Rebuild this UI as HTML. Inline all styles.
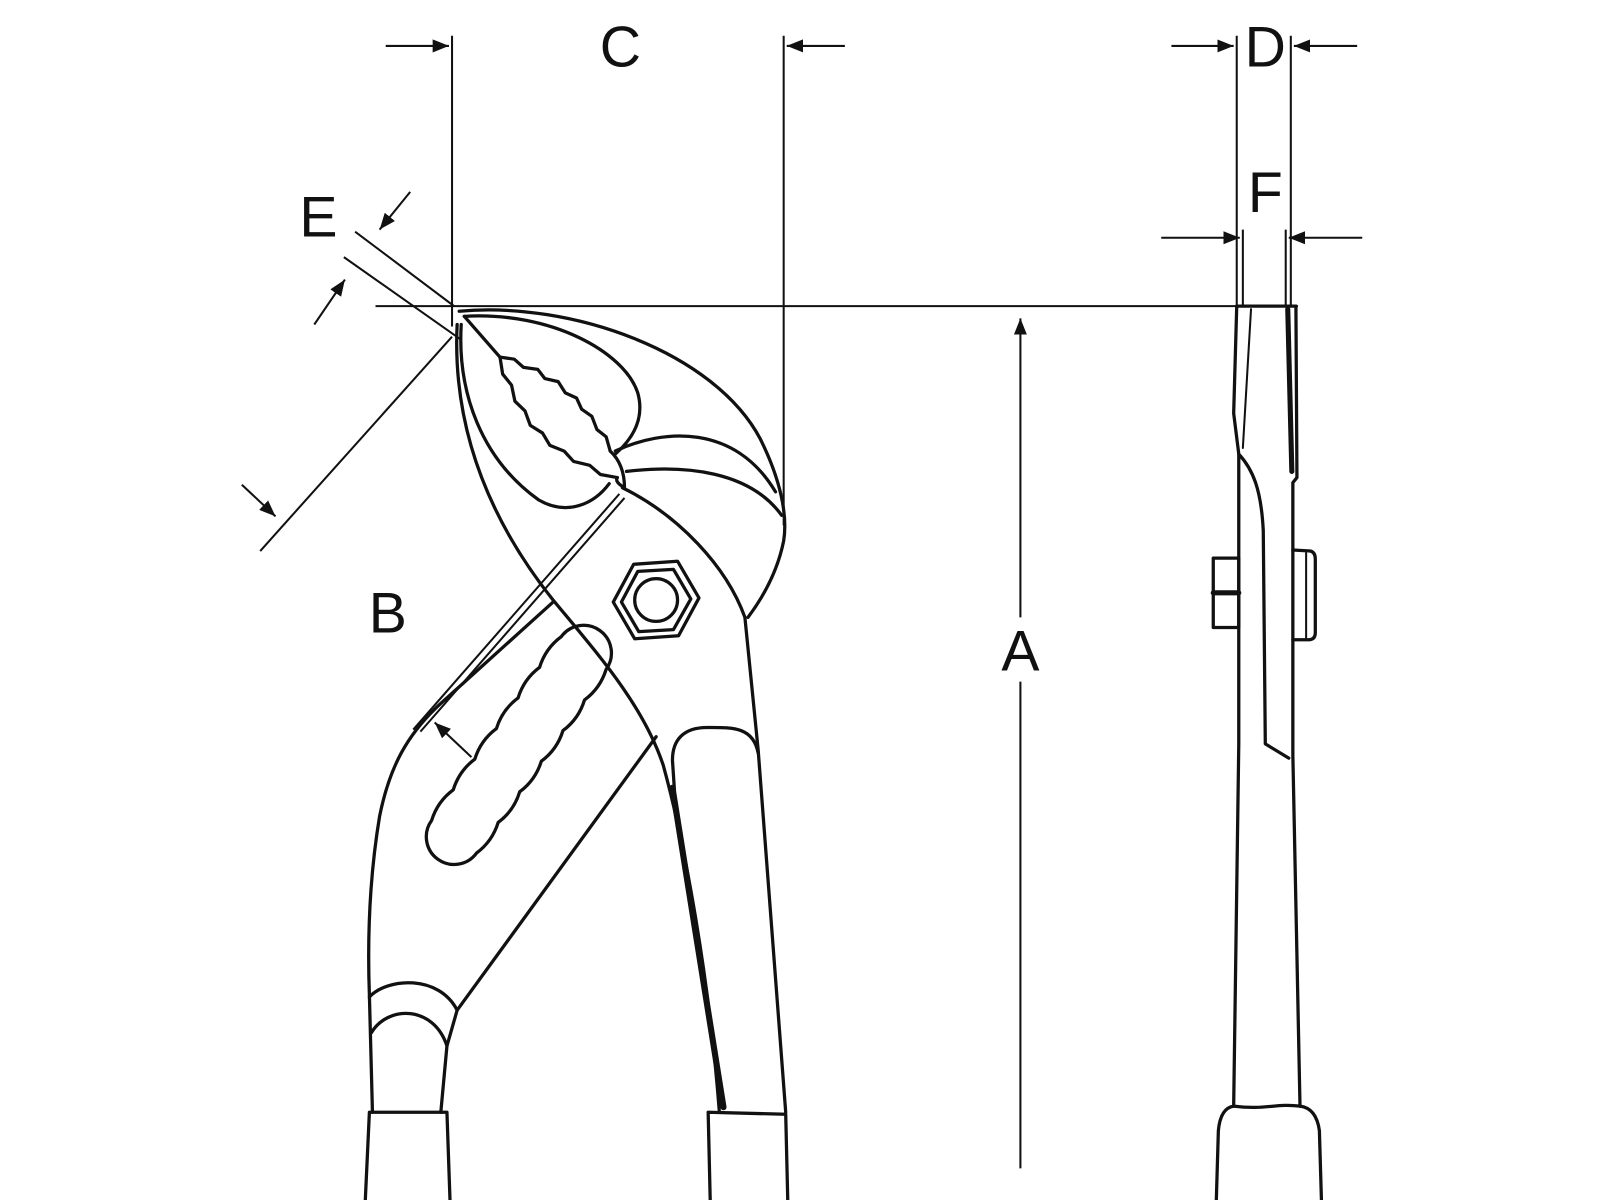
<!DOCTYPE html>
<html><head><meta charset="utf-8"><style>
html,body{margin:0;padding:0;background:#fff;}
svg{display:block;}
text{font-family:"Liberation Sans",sans-serif;font-size:56px;fill:#111;text-anchor:middle;}
</style></head><body>
<svg width="1600" height="1200" viewBox="0 0 1568 1176" xmlns="http://www.w3.org/2000/svg">
<defs>
<marker id="ar" viewBox="0 0 10 10" refX="10" refY="5" markerWidth="16" markerHeight="16" markerUnits="userSpaceOnUse" orient="auto">
<path d="M0,1 L10,5 L0,9 Z" fill="#111"/></marker>
</defs>
<g stroke="#111" fill="none" stroke-width="2">
<line x1="443" y1="35" x2="443" y2="320"/>
<line x1="768" y1="35" x2="768" y2="515"/>
<line x1="378" y1="45" x2="440" y2="45" marker-end="url(#ar)"/>
<line x1="828" y1="45" x2="771" y2="45" marker-end="url(#ar)"/>
<line x1="1212" y1="35" x2="1212" y2="300"/>
<line x1="1265" y1="35" x2="1265" y2="300"/>
<line x1="1148" y1="45" x2="1209" y2="45" marker-end="url(#ar)"/>
<line x1="1330" y1="45" x2="1268" y2="45" marker-end="url(#ar)"/>
<line x1="1218" y1="225" x2="1218" y2="300"/>
<line x1="1260" y1="225" x2="1260" y2="300"/>
<line x1="1138" y1="233" x2="1215" y2="233" marker-end="url(#ar)"/>
<line x1="1335" y1="233" x2="1263" y2="233" marker-end="url(#ar)"/>
<line x1="368" y1="300" x2="1272" y2="300"/>
<line x1="1000" y1="605" x2="1000" y2="312" marker-end="url(#ar)"/>
<line x1="1000" y1="668" x2="1000" y2="1145"/>
<line x1="348" y1="227" x2="445" y2="300"/>
<line x1="337" y1="252" x2="452" y2="333"/>
<line x1="402" y1="188" x2="372" y2="225" marker-end="url(#ar)"/>
<line x1="308" y1="318" x2="338" y2="274" marker-end="url(#ar)"/>
<line x1="443" y1="330" x2="255" y2="540"/>
<line x1="237" y1="475" x2="270" y2="506" marker-end="url(#ar)"/>
<line x1="607" y1="484" x2="405" y2="715"/>
<line x1="612" y1="488" x2="412" y2="717"/>
<line x1="462" y1="742" x2="426" y2="708" marker-end="url(#ar)"/>
</g>
<g stroke="#111" fill="none" stroke-width="3.2" stroke-linejoin="round" stroke-linecap="round">
<path d="M450,305 C560,295 700,345 745,430 C765,470 772,505 768,530 C762,560 748,585 733,605"/>
<path d="M455,310 C540,305 612,345 625,385 C632,410 620,430 603,445"/>
<path d="M603,442 C650,420 720,415 760,482"/>
<path d="M614,462 C672,455 735,462 766,505"/>
<path d="M452,318 C448,385 472,450 528,490 C556,506 582,494 597,474"/>
<polyline points="490,350 504,352 513,360 527,362 534,371 547,374 554,385 565,390 570,401 580,408 585,421 594,428 598,442"/>
<polyline points="490,350 492.6,366.6 501.3,377.4 504.6,393.2 514.5,402.7 519.7,416.9 531.7,424.4 538.9,436.5 552.9,442.1 562.1,452.2 577.9,456 588.4,465 605,468"/>
<path d="M598,442 Q612,455 612,478 Q602,472 605,468"/>
<line x1="455" y1="310" x2="490" y2="350"/>
<path d="M448,318 C443,420 480,510 542,588 C585,640 630,690 650,750 C672,830 695,960 705,1090"/>
<path d="M610,478 C665,505 712,555 730,605 L743,735 L770,1090"/>
<path d="M743,738 C738,712 718,713 693,713 C670,713 659,725 659,745 L661,775"/>
<path d="M659,772 L709,1085" stroke-width="6"/>
<polygon points="685,586 665,623 622,626 601,590 621,553 664,550"/>
<polygon points="677,587 660,617 626,619 609,590 625,560 660,558"/>
<circle cx="643" cy="588" r="21"/>
<path d="M542,590 L428,693 C400,720 382,750 372,800 C362,860 360,920 362,975 L365,1090"/>
<path d="M643,722 L448,990 L438,1025 L432,1090"/>
<path d="M362,977 C380,958 430,955 448,990"/>
<path d="M364,1012 C380,985 425,985 438,1025"/>
<path d="M594,656 Q588.3,674.5 572.8,686 Q567.2,704.5 551.7,716 Q546,734.5 530.5,746 Q524.8,764.5 509.3,776 Q503.7,794.5 488.2,806 Q482.5,824.5 467,836 A27,27 0 0 1 423,804 Q428.7,785.5 444.2,774 Q449.9,755.5 465.3,744 Q471,725.5 486.5,714 Q492.2,695.5 507.7,684 Q513.4,665.5 528.8,654 Q534.5,635.5 550,624 A27,27 0 0 1 594,656 Z"/>
<path d="M358,1176 L362,1090 L438,1090 L441,1176"/>
<path d="M696,1176 L694,1090 L770,1092 L772,1176"/>
<path d="M1212,300 L1209,405 L1214,445 L1214,729 L1209,1084"/>
<path d="M1226,303 L1218,439" stroke-width="2"/>
<path d="M1270,300 L1271,468 L1267,473 L1267,740 L1274,1084"/>
<path d="M1262,303 L1266,462" stroke-width="5"/>
<path d="M1214,445 C1228,460 1236,480 1238,520 L1240,729 L1263,743"/>
<path d="M1212,300 L1270,300"/>
<rect x="1189" y="547" width="25" height="68"/>
<line x1="1189" y1="581" x2="1214" y2="581" stroke-width="5"/>
<path d="M1267,539 L1284,540 Q1289,541 1289,548 L1289,620 Q1289,627 1282,627 L1267,627"/>
<line x1="1280" y1="542" x2="1280" y2="625" stroke-width="2"/>
<path d="M1209,1084 C1240,1088 1250,1081 1274,1084"/>
<path d="M1192,1176 L1194,1108 Q1196,1086 1209,1084"/>
<path d="M1295,1176 L1293,1108 Q1290,1086 1274,1084"/>
</g>
<text x="608" y="65">C</text>
<text x="1240" y="65">D</text>
<text x="1240" y="208">F</text>
<text x="312" y="232">E</text>
<text x="380" y="620">B</text>
<text x="1000" y="657">A</text>
</svg>
</body></html>
